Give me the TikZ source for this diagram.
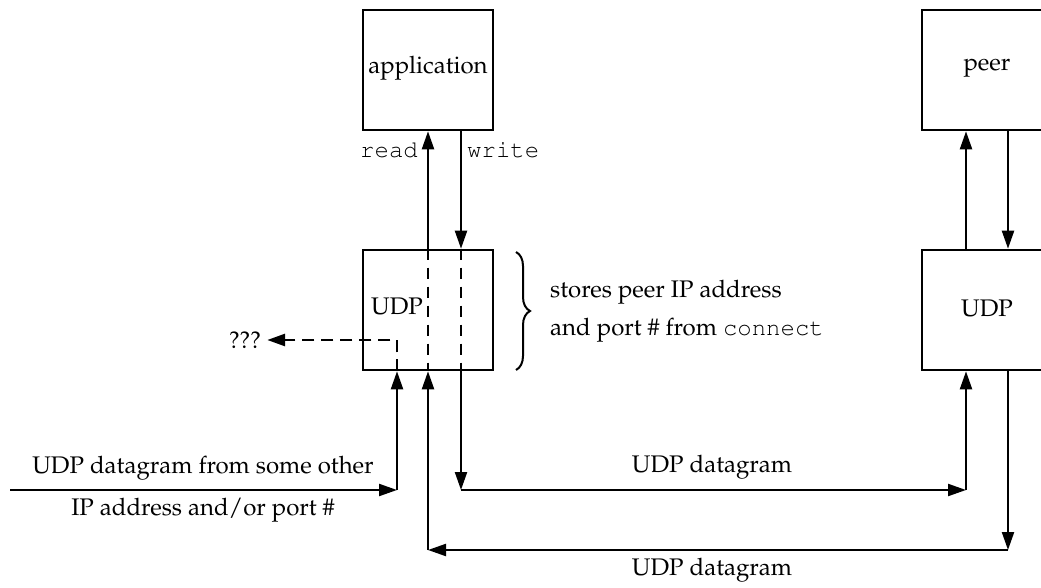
\documentclass[tikz,border=0pt]{standalone}
\usepackage[T1]{fontenc}
\usepackage{mathpazo}
\usepackage{courier}
\usetikzlibrary{arrows.meta,decorations.pathreplacing}

\tikzset{
  box/.style={draw, line width=2.6pt, minimum width=130pt, minimum height=120pt, inner sep=0pt},
  lbl/.style={inner sep=0pt, font=\fontsize{24}{28}\selectfont},
  code/.style={inner sep=0pt, font=\fontsize{24}{28}\selectfont\ttfamily},
  conn/.style={line width=2.2pt, -{Triangle[length=18pt,width=12pt]}},
  dashline/.style={line width=2.2pt, dash pattern=on 11pt off 8pt},
}

\begin{document}
\begin{tikzpicture}[x=1pt, y=-1pt]
  \useasboundingbox (0,0) rectangle (1041,588);
  \clip (0,0) rectangle (1041,588);

  % boxes
  \node[box] (app)  at (428,70)  {};
  \node[box] (udpA) at (428,310) {};
  \node[box] (peer) at (987,70)  {};
  \node[box] (udpB) at (987,310) {};
  \node[lbl] (appT)  at (428,68)  {application};
  \node[lbl] (udpAT) at (397,306) {UDP};
  \node[lbl] (peerT) at (987,68)  {peer};
  \node[lbl] (udpBT) at (987,308) {UDP};

  % read / write labels
  \node[code, anchor=east] (rd) at (418,150) {read};
  \node[code, anchor=west] (wr) at (467,150) {write};

  % bend points of the datagram paths
  \coordinate (wLow)  at (461,490);
  \coordinate (pIn)   at (966,490);
  \coordinate (pOut)  at (1008,550);
  \coordinate (rLow)  at (428,550);
  \coordinate (src)   at (10,490);
  \coordinate (oIn)   at (397,490);
  \coordinate (oTurn) at (397,340);

  % application <-> UDP (read / write)
  \draw[conn] (udpA.north) -- (app.south);
  \draw[conn] ([xshift=33pt]app.south) -- ([xshift=33pt]udpA.north);
  \draw[dashline] (udpA.north) -- (udpA.south);
  \draw[dashline] ([xshift=33pt]udpA.north) -- ([xshift=33pt]udpA.south);

  % peer <-> UDP
  \draw[conn] ([xshift=-21pt]udpB.north) -- ([xshift=-21pt]peer.south);
  \draw[conn] ([xshift=21pt]peer.south) -- ([xshift=21pt]udpB.north);

  % datagram to the peer
  \draw[conn] ([xshift=33pt]udpA.south) -- (wLow);
  \draw[conn] (wLow) -- (pIn);
  \draw[conn] (pIn) -- ([xshift=-21pt]udpB.south);

  % datagram from the peer
  \draw[conn] ([xshift=21pt]udpB.south) -- (pOut);
  \draw[conn] (pOut) -- (rLow);
  \draw[conn] (rLow) -- (udpA.south);

  % datagram from some other address
  \draw[conn] (src) -- (oIn);
  \draw[conn] (oIn) -- (oIn |- udpA.south);
  \node[lbl] (q) at (245,340) {???};
  \draw[dashline, line width=2.8pt, dash pattern=on 12pt off 7pt, -{Triangle[length=18pt,width=12pt]}]
    (oIn |- udpA.south) -- (oTurn) -- ([xshift=6pt]q.east);

  % labels on the datagram paths
  \node[lbl] (l1) at (712,467) {UDP datagram};
  \node[lbl] (l2) at (712,570) {UDP datagram};
  \node[lbl] (l3) at (203,468) {UDP datagram from some other};
  \node[lbl] (l4) at (203,510) {IP address and/or port \#};

  % brace with note
  \coordinate (bTop) at (516,252);
  \coordinate (bBot) at (516,370);
  \draw[line width=2pt, decorate, decoration={brace, amplitude=14pt}] (bTop) -- (bBot);
  \node[lbl, anchor=west] (n1) at (550,292) {stores peer IP address};
  \node[lbl, anchor=west] (n2) at (550,330) {and port \# from \texttt{connect}};
\end{tikzpicture}
\end{document}
